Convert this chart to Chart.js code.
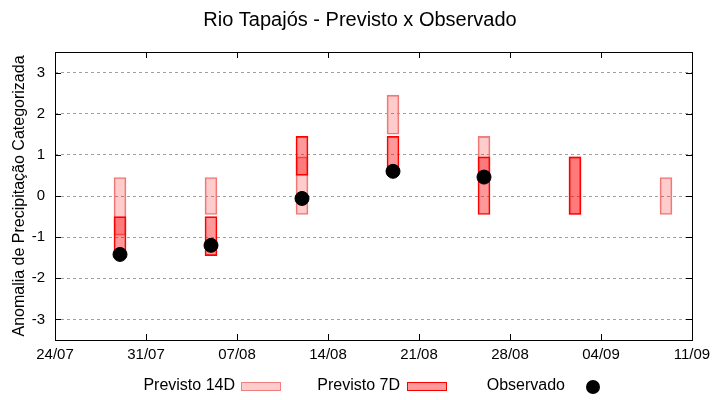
<!DOCTYPE html>
<html>
<head>
<meta charset="utf-8">
<script src="https://cdn.jsdelivr.net/npm/chart.js@4.4.1/dist/chart.umd.min.js"></script>
<style>
    html, body { margin: 0; padding: 0; background: #fff; }
    #wrap { width: 720px; height: 400px; }
</style>
</head>
<body>
<div id="wrap"><canvas id="chart"></canvas></div>
<script>
// dados
const xTickLabels = ['24/07', '31/07', '07/08', '14/08', '21/08', '28/08', '04/09', '11/09'];
const semanas = ['29/07', '05/08', '12/08', '19/08', '26/08', '02/09', '09/09'];
const prev14Min = [-0.95, -0.45, -0.45, 1.5, 0.45, -0.45, -0.45];
const prev14Max = [0.45, 0.45, 0.95, 2.45, 1.45, 0.95, 0.45];
const prev7Min = [-1.45, -1.45, 0.5, 0.55, -0.45, -0.45, null];
const prev7Max = [-0.5, -0.5, 1.45, 1.45, 0.95, 0.95, null];
const observado = [-1.42, -1.2, -0.06, 0.6, 0.46, null, null];
const yTicks = [-3, -2, -1, 0, 1, 2, 3];

const FONTE = "'Liberation Sans', Arial, sans-serif";

// dia relativo ao primeiro rótulo do eixo x
function diaDe(s) {
    const [d, m] = s.split('/').map(Number);
    const [d0, m0] = xTickLabels[0].split('/').map(Number);
    return (Date.UTC(2020, m - 1, d) - Date.UTC(2020, m0 - 1, d0)) / 86400000;
}

function faixas(mins, maxs) {
    const out = [];
    semanas.forEach((s, i) => {
        if (mins[i] !== null && maxs[i] !== null) out.push({ x: diaDe(s), y: [mins[i], maxs[i]] });
    });
    return out;
}

const pontosObs = [];
semanas.forEach((s, i) => {
    if (observado[i] !== null) pontosObs.push({ x: diaDe(s), y: observado[i] });
});

// moldura estilo gnuplot com marcas para dentro
const molduraPlugin = {
    id: 'moldura',
    afterDraw(chart) {
        const { ctx, chartArea: a, scales } = chart;
        ctx.save();
        ctx.strokeStyle = '#000';
        ctx.lineWidth = 1;
        ctx.strokeRect(Math.round(a.left) + 0.5, Math.round(a.top) + 0.5,
            Math.round(a.right - a.left), Math.round(a.bottom - a.top));
        ctx.beginPath();
        yTicks.forEach(v => {
            const y = Math.round(scales.y.getPixelForValue(v)) + 0.5;
            ctx.moveTo(a.left, y); ctx.lineTo(a.left + 6, y);
            ctx.moveTo(a.right, y); ctx.lineTo(a.right - 6, y);
        });
        xTickLabels.forEach(l => {
            const x = Math.round(scales.x.getPixelForValue(diaDe(l))) + 0.5;
            ctx.moveTo(x, a.bottom); ctx.lineTo(x, a.bottom - 6);
            ctx.moveTo(x, a.top); ctx.lineTo(x, a.top + 6);
        });
        ctx.stroke();
        ctx.restore();
    }
};

// legenda embaixo: texto e depois a amostra
const legendaPlugin = {
    id: 'legendaBaixo',
    afterDraw(chart) {
        const ctx = chart.ctx;
        const ds = chart.data.datasets;
        const y = 386;
        const itens = [
            { ds: ds[0], xTexto: 235, xAmostra: 241 },
            { ds: ds[1], xTexto: 400, xAmostra: 407 },
            { ds: ds[2], xTexto: 565, xAmostra: 593 }
        ];
        ctx.save();
        ctx.font = '16px ' + FONTE;
        ctx.textAlign = 'right';
        ctx.textBaseline = 'middle';
        itens.forEach(it => {
            ctx.fillStyle = '#000';
            ctx.fillText(it.ds.label, it.xTexto, y);
            if (it.ds.type === 'bar') {
                ctx.fillStyle = it.ds.backgroundColor;
                ctx.fillRect(it.xAmostra, y - 4, 40, 9);
                ctx.strokeStyle = it.ds.borderColor;
                ctx.lineWidth = 1;
                ctx.strokeRect(it.xAmostra + 0.5, y - 3.5, 39, 8);
            } else {
                ctx.fillStyle = it.ds.backgroundColor;
                ctx.beginPath();
                ctx.arc(it.xAmostra, y + 1, it.ds.pointRadius, 0, Math.PI * 2);
                ctx.fill();
            }
        });
        ctx.restore();
    }
};

new Chart(document.getElementById('chart').getContext('2d'), {
    type: 'bar',
    data: {
        datasets: [
            {
                type: 'bar',
                label: 'Previsto 14D',
                data: faixas(prev14Min, prev14Max),
                backgroundColor: 'rgba(255, 0, 0, 0.2)',
                borderColor: '#F08080',
                borderWidth: 1,
                borderSkipped: false,
                barThickness: 12,
                grouped: false,
                order: 3
            },
            {
                type: 'bar',
                label: 'Previsto 7D',
                data: faixas(prev7Min, prev7Max),
                backgroundColor: 'rgba(255, 0, 0, 0.4)',
                borderColor: '#FF0000',
                borderWidth: 1,
                borderSkipped: false,
                barThickness: 12,
                grouped: false,
                order: 2
            },
            {
                type: 'scatter',
                label: 'Observado',
                data: pontosObs,
                backgroundColor: '#000',
                borderColor: '#000',
                pointRadius: 7,
                order: 1
            }
        ]
    },
    options: {
        responsive: true,
        maintainAspectRatio: false,
        animation: false,
        layout: { padding: 0 },
        plugins: {
            legend: { display: false },
            tooltip: { enabled: false },
            title: {
                display: true,
                text: 'Rio Tapajós - Previsto x Observado',
                color: '#000',
                font: { family: FONTE, size: 20, weight: 'normal' },
                padding: { top: 8, bottom: 20 }
            }
        },
        scales: {
            x: {
                type: 'linear',
                offset: false,
                min: diaDe(xTickLabels[0]),
                max: diaDe(xTickLabels[xTickLabels.length - 1]),
                afterBuildTicks: s => { s.ticks = xTickLabels.map(l => ({ value: diaDe(l) })); },
                afterFit: s => { s.height = 60; },
                grid: { display: false, drawTicks: false },
                border: { display: false },
                ticks: {
                    color: '#000',
                    padding: 6,
                    maxRotation: 0,
                    autoSkip: false,
                    font: { family: FONTE, size: 15 },
                    callback: (v, i) => xTickLabels[i]
                }
            },
            y: {
                min: -3.5,
                max: 3.5,
                afterBuildTicks: s => { s.ticks = yTicks.map(v => ({ value: v })); },
                afterFit: s => { s.width = 55; },
                grid: { color: '#a0a0a0', drawTicks: false },
                border: { display: false, dash: [3, 3] },
                ticks: {
                    color: '#000',
                    padding: 10,
                    font: { family: FONTE, size: 15 },
                    callback: v => String(v)
                },
                title: {
                    display: true,
                    text: 'Anomalia de Precipitação Categorizada',
                    color: '#000',
                    font: { family: FONTE, size: 16 },
                    padding: { top: 10, bottom: 0 }
                }
            },
            // eixo vazio à direita só para reservar a margem
            yMargem: {
                type: 'linear',
                position: 'right',
                afterFit: s => { s.width = 28; },
                grid: { display: false, drawTicks: false },
                border: { display: false },
                ticks: { display: false }
            }
        }
    },
    plugins: [molduraPlugin, legendaPlugin]
});
</script>
</body>
</html>
